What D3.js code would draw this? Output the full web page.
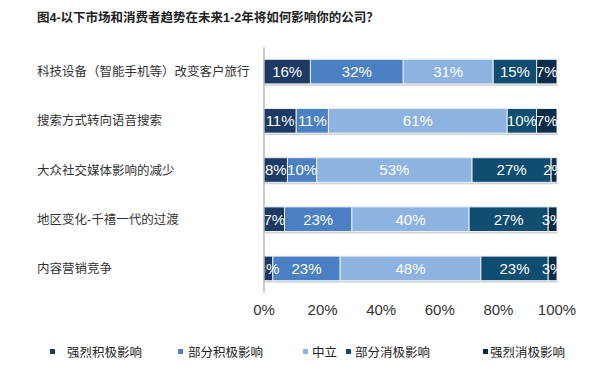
<!DOCTYPE html>
<html>
<head>
<meta charset="utf-8">
<script src="https://cdn.jsdelivr.net/npm/d3@7"></script>
<style>
  body { margin: 0; background: #fff; }
  svg { display: block; font-family: "Liberation Sans", Arial, "Noto Sans CJK SC", sans-serif; }
</style>
</head>
<body>
<svg id="chart" width="600" height="372"></svg>
<script>
const titleText = "图4-以下市场和消费者趋势在未来1-2年将如何影响你的公司？";

const categories = [
  "科技设备（智能手机等）改变客户旅行",
  "搜索方式转向语音搜索",
  "大众社交媒体影响的减少",
  "地区变化-千禧一代的过渡",
  "内容营销竞争"
];

const seriesNames = ["强烈积极影响", "部分积极影响", "中立", "部分消极影响", "强烈消极影响"];
const seriesColors = ["#1d3a64", "#4b80c4", "#8db3e1", "#0f4d71", "#0b2c48"];

// percentages per category, in series order
const strongPositive = [16, 11, 8, 7, 3];
const somePositive   = [32, 11, 10, 23, 23];
const neutral        = [31, 61, 53, 40, 48];
const someNegative   = [15, 10, 27, 27, 23];
const strongNegative = [7, 7, 2, 3, 3];

const tickValues = [0, 0.2, 0.4, 0.6, 0.8, 1];

const MARGIN = { top: 47, left: 264, right: 43, bottom: 79 };
const WIDTH = 600, HEIGHT = 372;

const seriesValues = [strongPositive, somePositive, neutral, someNegative, strongNegative];
const rows = categories.map((c, i) => {
  const row = { key: c };
  seriesNames.forEach((s, j) => { row[s] = seriesValues[j][i]; });
  return row;
});

const svg = d3.select("#chart");

const x = d3.scaleLinear().domain([0, 1]).range([MARGIN.left, WIDTH - MARGIN.right]);
const y = d3.scaleBand().domain(categories)
  .range([MARGIN.top, HEIGHT - MARGIN.bottom])
  .paddingInner(0.5).paddingOuter(0.25);

const stack = d3.stack().keys(seriesNames).offset(d3.stackOffsetExpand);
const stacked = stack(rows);

// title
svg.append("text")
  .attr("x", 37)
  .attr("y", 22)
  .style("font-size", "12.5px")
  .style("font-weight", "bold")
  .style("fill", "#222")
  .text(titleText);

// clip for labels
svg.append("clipPath").attr("id", "plotClip")
  .append("rect")
  .attr("x", x(0) + 1).attr("y", MARGIN.top)
  .attr("width", x(1) - x(0) - 1).attr("height", HEIGHT - MARGIN.bottom - MARGIN.top);

// bar shadows
svg.append("g").selectAll("rect")
  .data(categories)
  .join("rect")
  .attr("x", x(0) + 1)
  .attr("y", d => y(d) + y.bandwidth())
  .attr("width", x(1) - x(0))
  .attr("height", 2)
  .style("fill", "#d4d4d4");

const layers = svg.append("g").selectAll("g")
  .data(stacked)
  .join("g")
  .style("fill", (d, i) => seriesColors[i]);

layers.selectAll("rect")
  .data(d => d)
  .join("rect")
  .attr("x", d => x(d[0]))
  .attr("y", d => y(d.data.key))
  .attr("width", d => x(d[1]) - x(d[0]))
  .attr("height", y.bandwidth())
  .style("stroke", "#e8eef6")
  .style("stroke-width", 1);

// bar labels
const labels = svg.append("g").attr("clip-path", "url(#plotClip)");
stacked.forEach((layer) => {
  labels.append("g").selectAll("text")
    .data(layer)
    .join("text")
    .attr("x", d => (x(d[0]) + x(d[1])) / 2)
    .attr("y", d => y(d.data.key) + y.bandwidth() / 2)
    .attr("dy", "0.36em")
    .attr("text-anchor", "middle")
    .style("font-size", "15px")
    .style("fill", "#fff")
    .text(d => d.data[layer.key] + "%");
});

// vertical axis line
svg.append("line")
  .attr("x1", x(0)).attr("x2", x(0))
  .attr("y1", MARGIN.top).attr("y2", HEIGHT - MARGIN.bottom)
  .style("stroke", "#999")
  .style("stroke-width", 1);

// category labels
svg.append("g").selectAll("text")
  .data(categories)
  .join("text")
  .attr("x", 37)
  .attr("y", d => y(d) + y.bandwidth() / 2)
  .attr("dy", "0.36em")
  .style("font-size", "12.5px")
  .style("fill", "#333")
  .text(d => d);

// x tick labels
svg.append("g").selectAll("text")
  .data(tickValues)
  .join("text")
  .attr("x", d => x(d))
  .attr("y", 310)
  .attr("dy", "0.36em")
  .attr("text-anchor", "middle")
  .style("font-size", "15px")
  .style("fill", "#333")
  .text(d3.format(".0%"));

// legend
const legendX = [50, 178, 303, 346, 483];
const legend = svg.append("g").selectAll("g")
  .data(seriesNames)
  .join("g")
  .attr("transform", (d, i) => "translate(" + legendX[i] + ",352)");

legend.append("rect")
  .attr("x", 0).attr("y", -3)
  .attr("width", 5).attr("height", 5)
  .style("fill", (d, i) => seriesColors[i]);

legend.append("text")
  .attr("x", (d, i) => i === 2 || i === 3 ? 9 : (i === 4 ? 7 : (i === 0 ? 17 : 10)))
  .attr("dy", "0.36em")
  .style("font-size", "12.5px")
  .style("fill", "#222")
  .text(d => d);
</script>
</body>
</html>
